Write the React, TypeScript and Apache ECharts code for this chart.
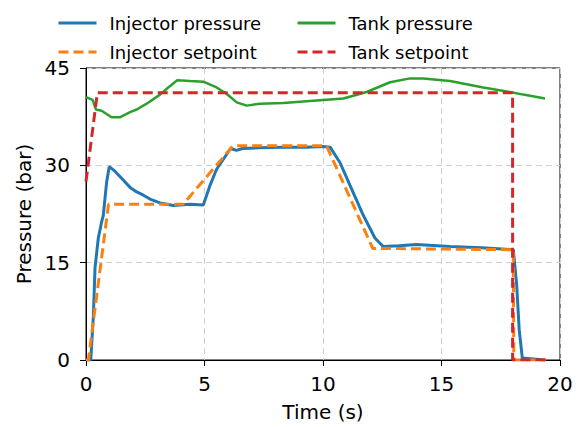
import React, { useEffect, useRef } from "react";
import * as echarts from "echarts";

const injectorPressureT = [0, 0.2, 0.31, 0.38, 0.52, 0.66, 0.73, 0.87, 0.98, 1.22, 1.58, 1.86, 2.14, 2.42, 2.7, 3.12, 3.68, 4.39, 4.95, 5.23, 5.51, 5.79, 6.1, 6.35, 6.6, 7.3, 8.3, 9.3, 10.0, 10.3, 10.72, 11.14, 11.7, 12.19, 12.54, 13.2, 13.95, 15.36, 16.7, 18.03, 18.17, 18.28, 18.41, 19.37];
const injectorPressureV = [0, 0, 6.7, 14.2, 18.8, 21.3, 22.3, 27.4, 29.8, 29.1, 27.7, 26.6, 25.9, 25.4, 24.8, 24.2, 23.8, 24.0, 23.9, 26.9, 29.4, 30.9, 32.6, 32.3, 32.6, 32.7, 32.8, 32.8, 32.9, 32.8, 30.4, 26.9, 22.3, 18.8, 17.5, 17.6, 17.8, 17.5, 17.3, 17.0, 11.7, 4.6, 0.3, 0];

const injectorSetpointT = [0, 0.1, 0.95, 4.1, 6.2, 10.15, 12.1, 18.03, 18.05, 19.4];
const injectorSetpointV = [0, 0, 24, 24, 33, 33, 17.2, 17.0, 0, 0];

const tankPressureT = [0, 0.28, 0.42, 0.66, 1.08, 1.43, 1.86, 2.14, 2.56, 3.12, 3.47, 3.85, 4.39, 4.95, 5.51, 5.94, 6.36, 6.78, 7.34, 8.33, 9.73, 10.86, 11.84, 12.83, 13.67, 14.23, 15.36, 16.76, 17.89, 18.45, 19.37];
const tankPressureV = [40.5, 40.1, 38.6, 38.4, 37.4, 37.4, 38.2, 38.6, 39.5, 40.9, 42.0, 43.1, 43.0, 42.9, 42.0, 41.0, 39.7, 39.2, 39.5, 39.6, 40.0, 40.3, 41.3, 42.8, 43.4, 43.4, 43.0, 42.0, 41.3, 40.9, 40.3];

const tankSetpointT = [0, 0.48, 18.0, 18.0, 19.4];
const tankSetpointV = [27.5, 41.2, 41.2, 0, 0];

const xTicks = [0, 5, 10, 15, 20];
const yTicks = [0, 15, 30, 45];

const seriesNames = ["Injector pressure", "Injector setpoint", "Tank pressure", "Tank setpoint"];

const zip = (t: number[], v: number[]) => t.map((x, i) => [x, v[i]]);

const FONT = "DejaVu Sans";

export default function App() {
  const ref = useRef<HTMLDivElement>(null);
  useEffect(() => {
    if (!ref.current) return;
    const chart = echarts.init(ref.current, null, { renderer: "svg" });
    const legendBase = (name: string, left: number, top: number) => ({
      data: [name],
      left,
      top,
      orient: "horizontal",
      padding: 0,
      itemWidth: 38,
      itemHeight: 18,
      itemStyle: { opacity: 0 },
      lineStyle: { width: 3 },
      textStyle: { fontFamily: FONT, fontSize: 18, color: "#000", padding: [0, 0, 0, 8], lineHeight: 18 },
    });
    chart.setOption({
      animation: false,
      backgroundColor: "#fff",
      legend: [
        legendBase(seriesNames[0], 57, 14),
        legendBase(seriesNames[1], 57, 43),
        legendBase(seriesNames[2], 296, 14),
        legendBase(seriesNames[3], 296, 43),
      ],
      grid: { left: 86, right: 21, top: 68, bottom: 63, show: true, borderColor: "#000", borderWidth: 1, backgroundColor: "transparent" },
      xAxis: {
        type: "value",
        min: xTicks[0],
        max: xTicks[xTicks.length - 1],
        interval: 5,
        name: "Time (s)",
        nameLocation: "middle",
        nameGap: 42,
        nameTextStyle: { fontFamily: FONT, fontSize: 20, color: "#000" },
        axisLine: { show: true, lineStyle: { color: "#000", width: 1 } },
        axisTick: { show: true, length: 6, lineStyle: { color: "#000" } },
        axisLabel: { fontFamily: FONT, fontSize: 20, color: "#000", margin: 14 },
        splitLine: { show: true, lineStyle: { color: "#cfcfcf", type: [6, 4], width: 1 } },
      },
      yAxis: {
        type: "value",
        min: yTicks[0],
        max: yTicks[yTicks.length - 1],
        interval: 15,
        name: "Pressure (bar)",
        nameLocation: "middle",
        nameGap: 52,
        nameTextStyle: { fontFamily: FONT, fontSize: 20, color: "#000" },
        axisLine: { show: true, lineStyle: { color: "#000", width: 1 } },
        axisTick: { show: true, length: 6, lineStyle: { color: "#000" } },
        axisLabel: { fontFamily: FONT, fontSize: 20, color: "#000", margin: 16 },
        splitLine: { show: true, lineStyle: { color: "#cfcfcf", type: [6, 4], width: 1 } },
      },
      series: [
        {
          name: seriesNames[0], type: "line", data: zip(injectorPressureT, injectorPressureV),
          symbol: "none", color: "#1f77b4", lineStyle: { color: "#1f77b4", width: 3 },
        },
        {
          name: seriesNames[1], type: "line", data: zip(injectorSetpointT, injectorSetpointV),
          symbol: "none", color: "#ff7f0e", lineStyle: { color: "#ff7f0e", width: 3, type: [10, 5] },
        },
        {
          name: seriesNames[2], type: "line", data: zip(tankPressureT, tankPressureV),
          symbol: "none", color: "#2ca02c", lineStyle: { color: "#2ca02c", width: 2.5 },
        },
        {
          name: seriesNames[3], type: "line", data: zip(tankSetpointT, tankSetpointV),
          symbol: "none", color: "#d62728", lineStyle: { color: "#d62728", width: 3, type: [10, 5] },
        },
      ],
    });
    return () => chart.dispose();
  }, []);
  return <div ref={ref} style={{ width: 581, height: 427, position: "fixed", left: 0, top: 0 }} />;
}
